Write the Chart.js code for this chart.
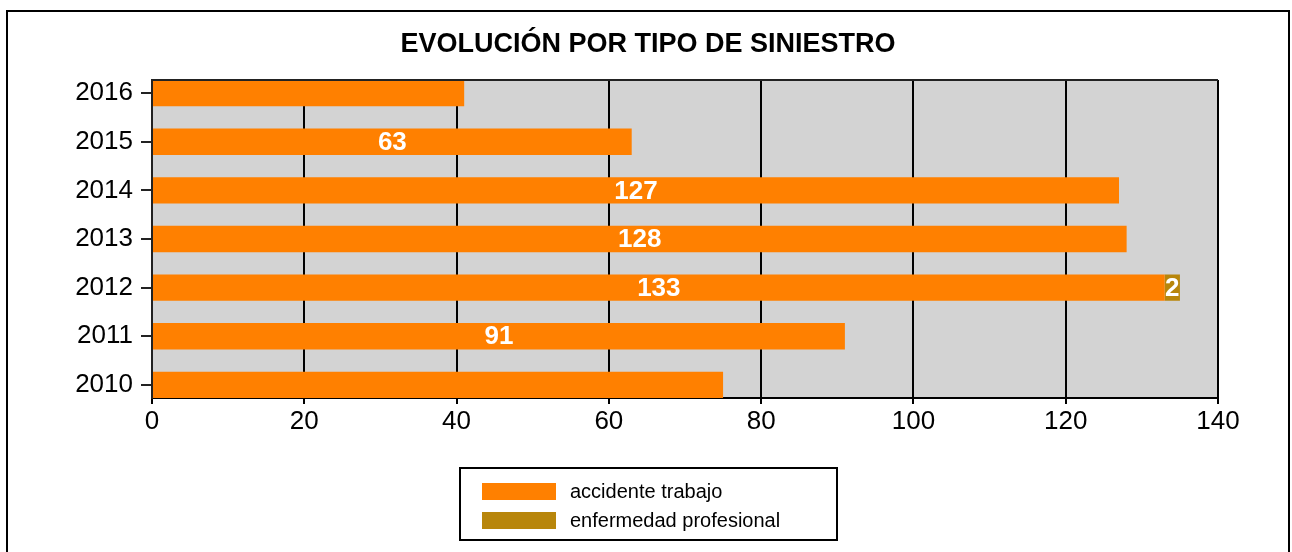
<!DOCTYPE html>
<html>
<head>
<meta charset="utf-8">
<script src="https://cdn.jsdelivr.net/npm/chart.js@4/dist/chart.umd.min.js"></script>
<style>
  html, body { margin: 0; padding: 0; background: #fff; }
  #wrap { width: 1292px; height: 552px; }
</style>
</head>
<body>
<div id="wrap"><canvas id="grafico"></canvas></div>
<script>
// Datos (de abajo hacia arriba: 2010 ... 2016)
const anios = ['2010', '2011', '2012', '2013', '2014', '2015', '2016'];
const accidenteTrabajo = [75, 91, 133, 128, 127, 63, 41];
const enfermedadProfesional = [0, 0, 2, 0, 0, 0, 0];
// Etiquetas visibles en la imagen original
const etiquetaAccidente = [false, true, true, true, true, true, false];
const etiquetaEnfermedad = [false, false, true, false, false, false, false];
const ticksX = [0, 20, 40, 60, 80, 100, 120, 140];
const titulo = 'EVOLUCIÓN POR TIPO DE SINIESTRO';

const FUENTE = '"Liberation Sans", Arial, sans-serif';
const NARANJA = '#FF8000';
const MARRON = '#B8860B';

function puntos(valores) {
    return valores.map((v, i) => ({ x: v, y: i }));
}

// Fondo gris del área de trazado
const fondoPlugin = {
    id: 'fondo',
    beforeDraw(chart) {
        const { ctx, chartArea: a } = chart;
        ctx.save();
        ctx.fillStyle = '#D3D3D3';
        ctx.fillRect(a.left, a.top, a.right - a.left, a.bottom - a.top);
        ctx.restore();
    }
};

// Título, borde superior, marco exterior, etiquetas y leyenda
const extrasPlugin = {
    id: 'extras',
    afterDatasetsDraw(chart) {
        const { ctx } = chart;
        ctx.save();
        ctx.font = 'bold 26px ' + FUENTE;
        ctx.fillStyle = '#FFFFFF';
        ctx.textAlign = 'center';
        ctx.textBaseline = 'middle';
        const mostrar = [etiquetaAccidente, etiquetaEnfermedad];
        chart.data.datasets.forEach((ds, di) => {
            const meta = chart.getDatasetMeta(di);
            meta.data.forEach((bar, i) => {
                if (!mostrar[di][i]) return;
                const p = bar.getProps(['x', 'y', 'base'], true);
                ctx.fillText(String(ds.data[i].x), (p.x + p.base) / 2, p.y + 1);
            });
        });
        ctx.restore();
    },
    afterDraw(chart) {
        const { ctx, chartArea: a } = chart;
        ctx.save();
        // título
        ctx.fillStyle = '#000';
        ctx.font = 'bold 27px ' + FUENTE;
        ctx.textAlign = 'center';
        ctx.textBaseline = 'middle';
        ctx.fillText(titulo, 648, 45);

        // borde superior del área
        ctx.strokeStyle = '#222';
        ctx.lineWidth = 2;
        ctx.beginPath();
        ctx.moveTo(a.left, a.top);
        ctx.lineTo(a.right, a.top);
        ctx.stroke();

        // marco exterior
        ctx.strokeStyle = '#000';
        ctx.strokeRect(7, 11, 1282, 560);

        // leyenda
        ctx.strokeRect(460, 468, 377, 72);
        const items = chart.data.datasets;
        ctx.font = '20px ' + FUENTE;
        ctx.textBaseline = 'middle';
        ctx.textAlign = 'left';
        items.forEach((ds, i) => {
            const y = 483 + i * 29;
            ctx.fillStyle = ds.backgroundColor;
            ctx.fillRect(482, y, 74, 17);
            ctx.fillStyle = '#000';
            ctx.fillText(ds.label, 570, y + 9);
        });
        ctx.restore();
    }
};

new Chart(document.getElementById('grafico'), {
    type: 'bar',
    data: {
        datasets: [
            {
                label: 'accidente trabajo',
                data: puntos(accidenteTrabajo),
                backgroundColor: NARANJA,
                borderWidth: 0,
                barPercentage: 0.54,
                categoryPercentage: 1
            },
            {
                label: 'enfermedad profesional',
                data: puntos(enfermedadProfesional),
                backgroundColor: MARRON,
                borderWidth: 0,
                barPercentage: 0.54,
                categoryPercentage: 1
            }
        ]
    },
    options: {
        indexAxis: 'y',
        responsive: true,
        maintainAspectRatio: false,
        animation: false,
        layout: { padding: { left: 0, right: 74, top: 80, bottom: 0 } },
        plugins: {
            legend: { display: false },
            tooltip: { enabled: false },
            title: { display: false }
        },
        scales: {
            x: {
                type: 'linear',
                stacked: true,
                min: 0,
                max: 140,
                afterBuildTicks(scale) {
                    scale.ticks = ticksX.map(v => ({ value: v }));
                },
                afterFit(scale) { scale.height = 154; },
                grid: {
                    color: '#000',
                    lineWidth: 2,
                    tickLength: 6,
                    drawOnChartArea: true
                },
                border: { color: '#000', width: 2 },
                ticks: {
                    color: '#000',
                    padding: 2,
                    font: { family: FUENTE, size: 26 }
                }
            },
            y: {
                type: 'linear',
                stacked: true,
                offset: false,
                min: -0.27,
                max: 6.27,
                afterBuildTicks(scale) {
                    scale.ticks = anios.map((_, i) => ({ value: i }));
                },
                afterFit(scale) { scale.width = 152; },
                grid: {
                    offset: false,
                    drawOnChartArea: false,
                    color: '#222',
                    lineWidth: 2,
                    tickLength: 11
                },
                border: { color: '#222', width: 2 },
                ticks: {
                    color: '#000',
                    padding: 8,
                    autoSkip: false,
                    font: { family: FUENTE, size: 26 },
                    callback: (value) => anios[value]
                }
            }
        }
    },
    plugins: [fondoPlugin, extrasPlugin]
});
</script>
</body>
</html>
